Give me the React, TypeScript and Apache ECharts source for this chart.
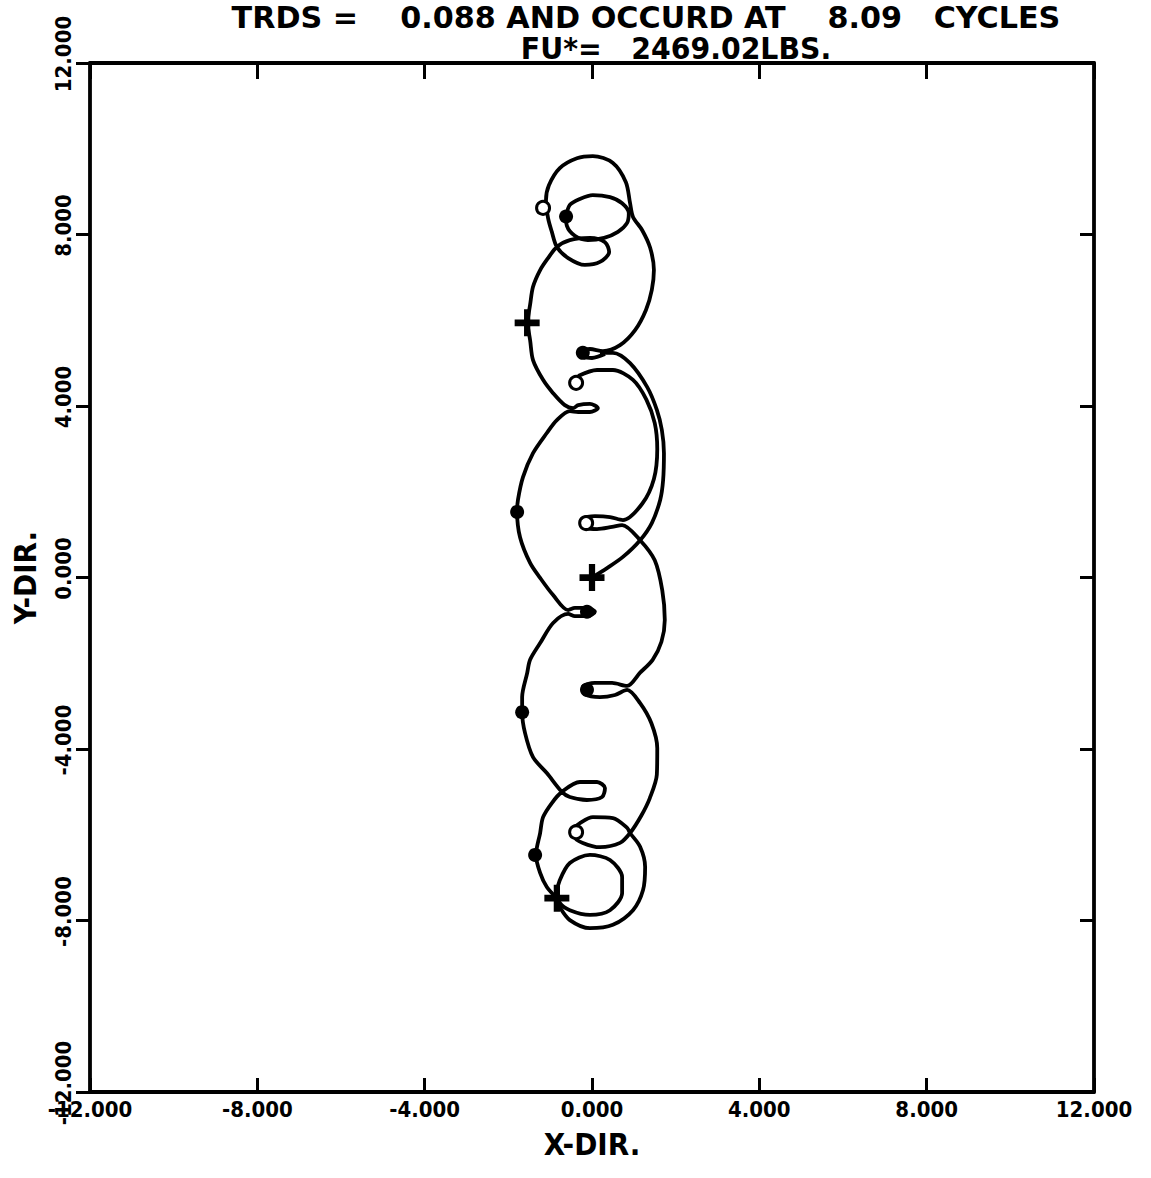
import React, { useEffect, useRef } from "react";
import * as echarts from "echarts";

// ---- data (inches) ----
const TITLE_LINE_1 = "TRDS =    0.088 AND OCCURD AT    8.09   CYCLES";
const TITLE_LINE_2 = "FU*=   2469.02LBS.";
const X_NAME = "X-DIR.";
const Y_NAME = "Y-DIR.";
const AXIS_MIN = -12;
const AXIS_MAX = 12;
const AXIS_STEP = 4;

// left chain of loops: from upper "+" down to lower "+"
const leftChain: number[][] = [
  [-1.55, 5.94], [-1.48, 5.54], [-1.41, 5.07], [-1.17, 4.61], [-0.93, 4.3], [-0.65, 4.02], [-0.45, 3.95],
  [-0.33, 4.02], [-0.05, 4.05], [0.14, 3.95], [-0.05, 3.86], [-0.33, 3.86], [-0.53, 3.88],
  [-0.84, 3.67], [-1.08, 3.37], [-1.41, 2.9], [-1.65, 2.34], [-1.77, 1.81], [-1.79, 1.53], [-1.72, 0.94],
  [-1.48, 0.34], [-1.24, -0.01], [-0.93, -0.41], [-0.57, -0.76],
  [-0.41, -0.71], [-0.1, -0.71], [0.07, -0.8], [-0.1, -0.9], [-0.41, -0.9], [-0.57, -0.85],
  [-0.93, -1.06], [-1.24, -1.53], [-1.48, -1.92], [-1.55, -2.23], [-1.67, -2.79], [-1.67, -3.14],
  [-1.6, -3.63], [-1.41, -4.19], [-1.08, -4.56], [-0.72, -5.0],
  [-0.53, -5.12], [-0.12, -5.19], [0.24, -5.12], [0.31, -4.91], [0.12, -4.77], [-0.29, -4.77], [-0.72, -5.0],
  [-0.96, -5.26], [-1.17, -5.59], [-1.24, -5.96], [-1.34, -6.47], [-1.24, -6.89], [-1.08, -7.22], [-0.84, -7.48],
];

// upper structure: cusp, right arc, top circle, lobe, down to upper "+"
const topPath: number[][] = [
  [0.31, 5.21], [0.0, 5.12], [-0.24, 5.14], [-0.24, 5.26], [-0.05, 5.33], [0.26, 5.28],
  [0.67, 5.42], [1.03, 5.77], [1.29, 6.24], [1.43, 6.71], [1.48, 7.17], [1.39, 7.69], [1.2, 8.1],
  [0.98, 8.41], [0.91, 8.73], [0.81, 9.22], [0.5, 9.67], [0.02, 9.83], [-0.36, 9.78], [-0.77, 9.55],
  [-1.03, 9.15], [-1.1, 8.8], [-1.05, 8.38], [-0.96, 8.06], [-0.84, 7.71],
  [-0.57, 7.45], [-0.17, 7.29], [0.19, 7.36], [0.41, 7.59], [0.31, 7.82], [-0.05, 7.92], [-0.53, 7.87], [-0.84, 7.71],
  [-1.05, 7.45], [-1.24, 7.17], [-1.41, 6.78], [-1.48, 6.36], [-1.55, 5.94],
];

// small closed circle inside the top circle
const topInnerLoop: number[][] = [
  [-0.62, 8.42], [-0.53, 8.69], [-0.29, 8.83], [0.02, 8.92], [0.43, 8.87], [0.72, 8.73], [0.88, 8.5],
  [0.84, 8.27], [0.62, 8.06], [0.29, 7.92], [-0.1, 7.87], [-0.41, 7.97], [-0.6, 8.2], [-0.62, 8.42],
];

// outer right arc from the upper cusp to the origin
const rightOuterArc: number[][] = [
  [0.19, 5.24], [0.5, 5.24], [0.91, 5.0], [1.32, 4.44], [1.55, 3.91], [1.67, 3.44], [1.72, 2.9],
  [1.7, 2.27], [1.63, 1.81], [1.43, 1.27], [1.15, 0.87], [0.74, 0.48], [0.36, 0.22], [0.0, 0.0],
];

// inner right chain of loops down to the lower circle
const rightInnerChain: number[][] = [
  [-0.33, 4.7], [0.12, 4.84], [0.5, 4.84], [0.98, 4.61], [1.3, 4.15], [1.5, 3.6], [1.56, 3.0],
  [1.48, 2.3], [1.2, 1.72], [0.74, 1.34],
  [0.43, 1.41], [0.07, 1.43], [-0.22, 1.36], [-0.22, 1.18], [0.12, 1.13], [0.48, 1.18], [0.72, 1.22],
  [1.15, 0.87], [1.5, 0.4], [1.68, -0.3], [1.74, -0.99], [1.66, -1.5], [1.45, -1.92], [1.15, -2.22], [0.84, -2.53],
  [0.48, -2.46], [0.07, -2.46], [-0.22, -2.55], [-0.17, -2.72], [0.19, -2.79], [0.55, -2.74], [0.84, -2.62],
  [1.15, -2.93], [1.42, -3.4], [1.56, -3.98], [1.55, -4.6], [1.38, -5.15], [1.18, -5.55], [0.91, -5.96],
  [0.67, -6.19], [0.19, -6.29], [-0.22, -6.19], [-0.41, -6.05], [-0.41, -5.84], [-0.29, -5.73], [0.02, -5.59],
  [0.5, -5.61], [0.84, -5.84], [0.91, -5.96],
  [1.15, -6.28], [1.27, -6.75], [1.22, -7.29], [0.98, -7.76], [0.5, -8.1], [-0.05, -8.18], [-0.53, -7.99],
  [-0.77, -7.69], [-0.84, -7.5],
];

// small closed circle inside the bottom circle
const bottomInnerLoop: number[][] = [
  [-0.77, -7.06], [-0.53, -6.66], [-0.05, -6.47], [0.43, -6.59], [0.72, -6.99], [0.72, -7.36], [0.43, -7.76],
  [-0.05, -7.87], [-0.53, -7.76], [-0.77, -7.59], [-0.84, -7.34], [-0.77, -7.06],
];

const filledMarkers: number[][] = [
  [-0.62, 8.42], [-0.22, 5.24], [-1.79, 1.53], [-0.12, -0.8], [-0.12, -2.62], [-1.67, -3.14], [-1.36, -6.47],
];
const hollowMarkers: number[][] = [
  [-1.17, 8.62], [-0.38, 4.54], [-0.14, 1.27], [-0.38, -5.94],
];
const plusMarkers: number[][] = [
  [0, 0], [-1.55, 5.94], [-0.84, -7.48],
];

const FONT = '"DejaVu Sans Condensed", "DejaVu Sans", sans-serif';
const PLUS = "path://M3,0 H5 V3 H8 V5 H5 V8 H3 V5 H0 V3 H3 Z";

function lineSeries(data: number[][]) {
  return {
    type: "line",
    data,
    showSymbol: false,
    symbol: "none",
    smooth: 0.3,
    lineStyle: { color: "#000", width: 3.8, opacity: 1 },
    z: 3,
  };
}

function valueAxis(extra: any) {
  return {
    type: "value",
    min: AXIS_MIN,
    max: AXIS_MAX,
    interval: AXIS_STEP,
    splitLine: { show: false },
    axisLine: { show: true, onZero: false, lineStyle: { color: "#000", width: 3.8 } },
    ...extra,
  };
}

export default function App() {
  const ref = useRef<HTMLDivElement>(null);
  useEffect(() => {
    document.body.style.margin = "0";
    const chart = echarts.init(ref.current!, null, { renderer: "svg" });
    const labelStyle = {
      color: "#000",
      fontFamily: FONT,
      fontWeight: "bold",
      fontSize: 22,
      formatter: (v: number) => v.toFixed(3),
      showMinLabel: true,
      showMaxLabel: true,
    };
    const titleStyle = {
      fill: "#000",
      font: `bold 30px ${FONT}`,
      align: "center",
      verticalAlign: "middle",
      textAlign: "center",
      textVerticalAlign: "middle",
    };
    chart.setOption({
      animation: false,
      backgroundColor: "#fff",
      grid: { left: 90, right: 57, top: 63, bottom: 86 },
      graphic: [
        {
          type: "text",
          x: 646,
          y: 18,
          scaleX: 1.12,
          style: { ...titleStyle, text: TITLE_LINE_1 },
        },
        {
          type: "text",
          x: 676,
          y: 48,
          scaleX: 1.05,
          style: { ...titleStyle, text: TITLE_LINE_2 },
        },
      ],
      xAxis: [
        valueAxis({
          position: "bottom",
          name: X_NAME,
          nameLocation: "middle",
          nameGap: 36,
          nameTextStyle: { color: "#000", fontFamily: FONT, fontWeight: "bold", fontSize: 31 },
          axisTick: { show: true, inside: true, length: 14, lineStyle: { color: "#000", width: 3 } },
          axisLabel: { ...labelStyle, margin: 6 },
        }),
        valueAxis({
          position: "top",
          axisTick: { show: true, inside: true, length: 16, lineStyle: { color: "#000", width: 3 } },
          axisLabel: { show: false },
        }),
      ],
      yAxis: [
        valueAxis({
          position: "left",
          name: Y_NAME,
          nameLocation: "middle",
          nameGap: 50,
          nameRotate: 90,
          nameTextStyle: { color: "#000", fontFamily: FONT, fontWeight: "bold", fontSize: 31 },
          axisTick: { show: true, inside: false, length: 14, lineStyle: { color: "#000", width: 3 } },
          axisLabel: { ...labelStyle, rotate: 90, margin: 16, padding: [0, 0, 0, 18] },
        }),
        valueAxis({
          position: "right",
          axisTick: { show: true, inside: true, length: 14, lineStyle: { color: "#000", width: 3 } },
          axisLabel: { show: false },
        }),
      ],
      series: [
        lineSeries(leftChain),
        lineSeries(topPath),
        lineSeries(topInnerLoop),
        lineSeries(rightOuterArc),
        lineSeries(rightInnerChain),
        lineSeries(bottomInnerLoop),
        {
          type: "scatter",
          data: filledMarkers,
          symbol: "circle",
          symbolSize: 14,
          itemStyle: { color: "#000", opacity: 1 },
          z: 4,
        },
        {
          type: "scatter",
          data: hollowMarkers,
          symbol: "circle",
          symbolSize: 13,
          itemStyle: { color: "#fff", borderColor: "#000", borderWidth: 3, opacity: 1 },
          z: 4,
        },
        {
          type: "scatter",
          data: plusMarkers,
          symbol: PLUS,
          symbolSize: [25, 27],
          itemStyle: { color: "#000", opacity: 1 },
          z: 5,
        },
      ],
    });
    return () => chart.dispose();
  }, []);
  return <div ref={ref} style={{ width: 1151, height: 1178 }} />;
}
